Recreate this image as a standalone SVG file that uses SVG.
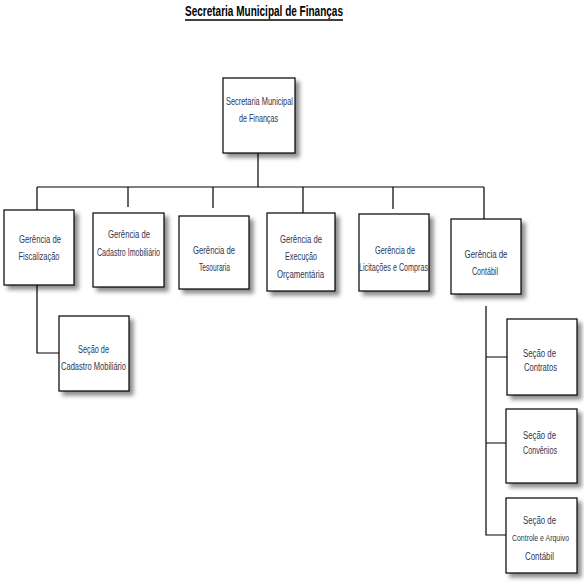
<svg xmlns="http://www.w3.org/2000/svg" width="584" height="588" viewBox="0 0 584 588">
<style>
.box{fill:#fff;stroke:#000;stroke-width:1.2;filter:url(#sh)}
.t{font-family:"Liberation Sans",Arial,sans-serif;font-size:10px;fill:#2f3550;text-anchor:middle}
.ln{stroke:#000;stroke-width:1.2;fill:none}
</style>
<defs>
<filter id="sh" x="-20%" y="-20%" width="150%" height="150%">
<feDropShadow dx="4" dy="4" stdDeviation="2" flood-color="#000" flood-opacity="0.45"/>
</filter>
</defs>
<rect width="584" height="588" fill="#fff"/>
<g id="title">
<text x="264" y="16" font-family="'Liberation Sans',Arial,sans-serif" font-size="15" font-weight="bold" fill="#000" text-anchor="middle" textLength="158" lengthAdjust="spacingAndGlyphs">Secretaria Municipal de Finanças</text>
<line x1="185" y1="20" x2="343" y2="20" stroke="#000" stroke-width="1.3"/>
</g>
<g id="connectors">
<path class="ln" d="M258,153V187M37,187H484M37,187V210M128,187V207M213,187V208M303,187V213M393,187V209M484,187V219"/>
<path class="ln" d="M37,285V353H59"/>
<path class="ln" d="M486,306V535H507M486,357H507M486,443H507"/>
</g>
<g id="n-secretaria">
<rect class="box" x="223" y="78" width="72" height="75"/>
<text class="t" x="259.5" y="105" textLength="67" lengthAdjust="spacingAndGlyphs">Secretaria Municipal</text>
<text class="t" x="258.5" y="122" textLength="39" lengthAdjust="spacingAndGlyphs">de Finanças</text>
</g>
<g id="n-fiscalizacao">
<rect class="box" x="4" y="210" width="70" height="75"/>
<text class="t" x="40" y="243" textLength="42" lengthAdjust="spacingAndGlyphs">Gerência de</text>
<text class="t" x="39" y="260" textLength="41" lengthAdjust="spacingAndGlyphs">Fiscalização</text>
</g>
<g id="n-cadastro-imob">
<rect class="box" x="93" y="213" width="71" height="74"/>
<text class="t" x="129" y="238" textLength="42" lengthAdjust="spacingAndGlyphs">Gerência de</text>
<text class="t" x="128.5" y="256" textLength="63" lengthAdjust="spacingAndGlyphs">Cadastro Imobiliário</text>
</g>
<g id="n-tesouraria">
<rect class="box" x="179" y="216" width="70" height="73"/>
<text class="t" x="214" y="254" textLength="42" lengthAdjust="spacingAndGlyphs">Gerência de</text>
<text class="t" x="214.5" y="271" textLength="31" lengthAdjust="spacingAndGlyphs">Tesouraria</text>
</g>
<g id="n-execucao">
<rect class="box" x="267" y="213" width="68" height="78"/>
<text class="t" x="301" y="243" textLength="42" lengthAdjust="spacingAndGlyphs">Gerência de</text>
<text class="t" x="301" y="260" textLength="32" lengthAdjust="spacingAndGlyphs">Execução</text>
<text class="t" x="300.5" y="278" textLength="47" lengthAdjust="spacingAndGlyphs">Orçamentária</text>
</g>
<g id="n-licitacoes">
<rect class="box" x="359" y="214" width="70" height="77"/>
<text class="t" x="395" y="254" textLength="40" lengthAdjust="spacingAndGlyphs">Gerência de</text>
<text class="t" x="393.5" y="271" textLength="69" lengthAdjust="spacingAndGlyphs">Licitações e Compras</text>
</g>
<g id="n-contabil">
<rect class="box" x="451" y="219" width="70" height="75"/>
<text class="t" x="486" y="258" textLength="43" lengthAdjust="spacingAndGlyphs">Gerência de</text>
<text class="t" x="485" y="275" textLength="26" lengthAdjust="spacingAndGlyphs">Contábil</text>
</g>
<g id="n-cadastro-mob">
<rect class="box" x="59" y="316" width="70" height="75"/>
<text class="t" x="93.5" y="353" textLength="31" lengthAdjust="spacingAndGlyphs">Seção de</text>
<text class="t" x="93.5" y="370" textLength="65" lengthAdjust="spacingAndGlyphs">Cadastro Mobiliário</text>
</g>
<g id="n-contratos">
<rect class="box" x="507" y="319" width="70" height="76"/>
<text class="t" x="539.5" y="357" textLength="33" lengthAdjust="spacingAndGlyphs">Seção de</text>
<text class="t" x="540.5" y="371" textLength="33" lengthAdjust="spacingAndGlyphs">Contratos</text>
</g>
<g id="n-convenios">
<rect class="box" x="506" y="409" width="71" height="74"/>
<text class="t" x="539.5" y="439" textLength="33" lengthAdjust="spacingAndGlyphs">Seção de</text>
<text class="t" x="540" y="454" textLength="34" lengthAdjust="spacingAndGlyphs">Convênios</text>
</g>
<g id="n-controle">
<rect class="box" x="506" y="498" width="71" height="75"/>
<text class="t" x="539.5" y="524" textLength="33" lengthAdjust="spacingAndGlyphs">Seção de</text>
<text class="t" x="540.5" y="541" style="font-size:8.5px" textLength="57" lengthAdjust="spacingAndGlyphs">Controle e Arquivo</text>
<text class="t" x="539.5" y="560" textLength="29" lengthAdjust="spacingAndGlyphs">Contábil</text>
</g>
</svg>
